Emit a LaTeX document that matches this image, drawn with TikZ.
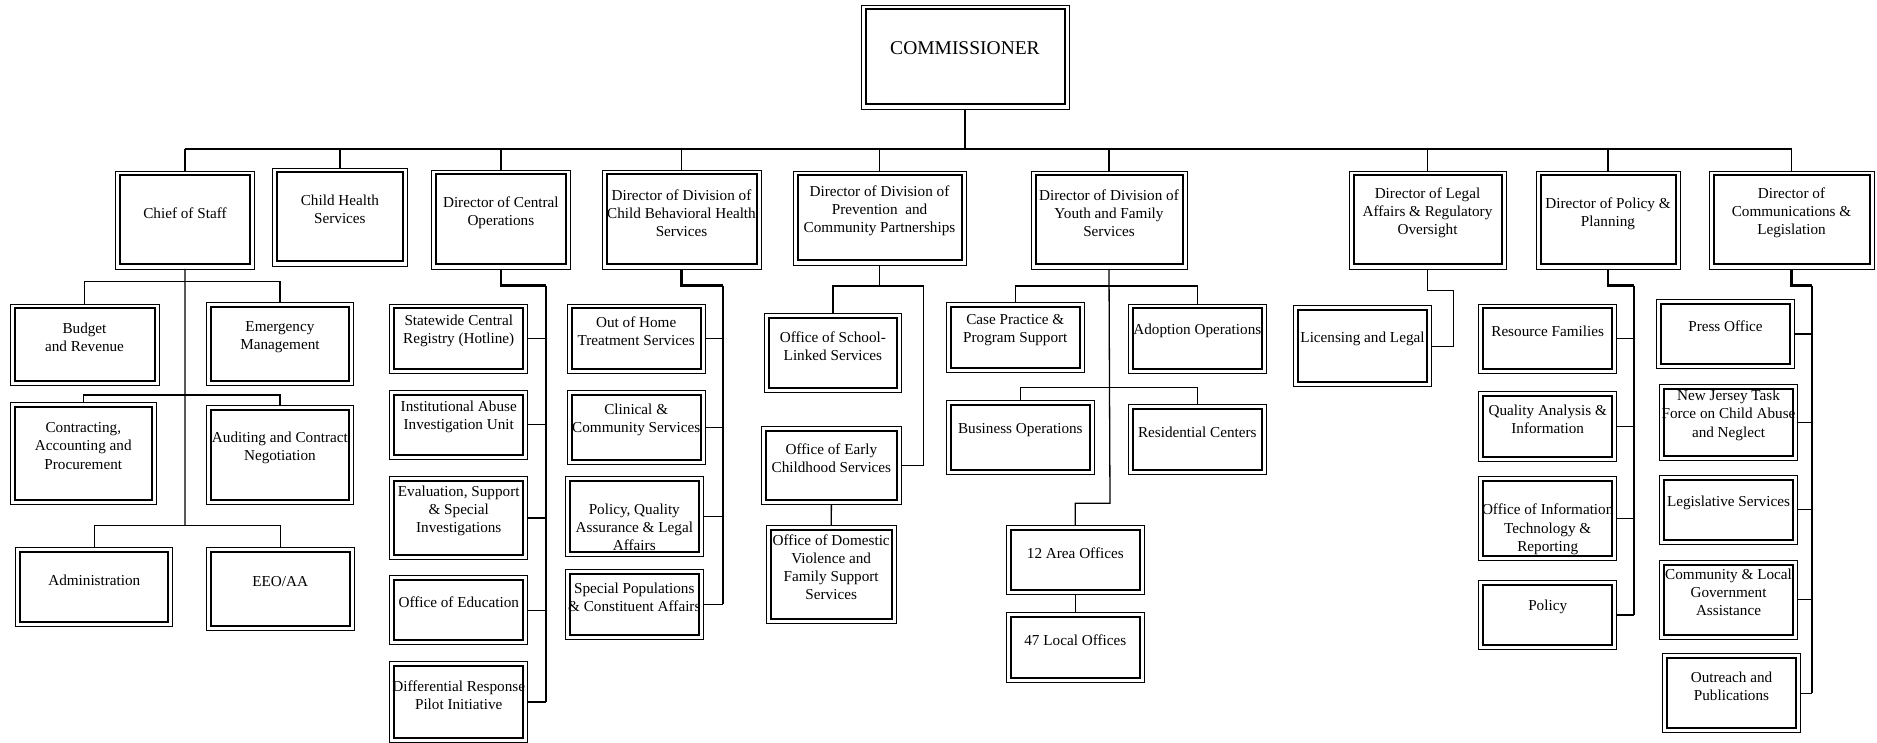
\documentclass[tikz,border=0pt]{standalone}
\usepackage{fontspec}
\setmainfont{Liberation Serif}
\tikzset{
  box/.style={draw=black, line width=0.9pt, inner sep=0pt, outer sep=0pt,
    path picture={\draw[line width=2pt] ([shift={(4.5pt,4.5pt)}]path picture bounding box.south west) rectangle ([shift={(-4.5pt,-4.5pt)}]path picture bounding box.north east);}},
  txt/.style={align=center, inner sep=0pt, yshift=-2pt, font=\fontsize{15.2}{18.2}\selectfont},
  conn/.style={line width=1.3pt},
  medc/.style={line width=1.7pt},
  thickc/.style={line width=2.4pt}
}
\newcommand{\orgbox}[7]{%
  \pgfmathsetmacro\obw{#4-#2}%
  \pgfmathsetmacro\obh{#5-#3}%
  \pgfmathsetmacro\obc{(#2+#4)/2}%
  \node[box, anchor=north west, minimum width=\obw pt, minimum height=\obh pt] (#1) at (#2,#3) {};
  \node[txt] (#1-t) at (\obc,#6) {#7};
}
\begin{document}
\begin{tikzpicture}[x=1pt, y=-1pt]
\useasboundingbox (0,0) rectangle (1877,743);

% Commissioner
\node[box, anchor=north west, minimum width=208pt, minimum height=104pt] (comm) at (861,5) {};
\node[txt, font=\fontsize{19.5}{23}\selectfont] (comm-t) at (965,46) {COMMISSIONER};

% Level 1
\orgbox{chief}{115.7}{171}{254.2}{269}{211}{Chief of Staff}
\orgbox{chs}{272.8}{168}{407}{266}{207.5}{Child Health\\Services}
\orgbox{cent}{431.7}{170}{570}{269}{211}{Director of Central\\Operations}
\orgbox{cbh}{602}{170}{761}{269}{211}{Director of Division of\\Child Behavioral Health\\Services}
\orgbox{prev}{793}{171}{966}{265}{209}{Director of Division of\\Prevention\ \ and\\Community Partnerships}
\orgbox{youth}{1031}{171}{1187}{269}{211}{Director of Division of\\Youth and Family\\Services}
\orgbox{legal}{1349}{171}{1506}{269}{211}{Director of Legal\\Affairs \& Regulatory\\Oversight}
\orgbox{dpol}{1536}{171}{1680}{269}{211.5}{Director of Policy \&\\Planning}
\orgbox{comms}{1709}{171}{1874}{269}{211}{Director of\\Communications \&\\Legislation}

% Chief of staff subtree
\orgbox{budget}{10}{304}{159}{385}{335}{Budget\\and Revenue}
\orgbox{emerg}{206.5}{302.7}{353.4}{385.3}{335}{Emergency\\Management}
\orgbox{contr}{10}{402}{156.6}{504.7}{444}{Contracting,\\Accounting and\\Procurement}
\orgbox{audit}{206.5}{405.7}{353.4}{504}{446}{Auditing and Contract\\Negotiation}
\orgbox{admin}{15.8}{547}{172.8}{626}{578}{Administration}
\orgbox{eeo}{206.5}{547}{354}{630}{580}{EEO/AA}

% Central operations subtree
\orgbox{state}{389.6}{304}{527.9}{373}{329}{Statewide Central\\Registry (Hotline)}
\orgbox{inst}{389.6}{390}{527.9}{459}{415}{Institutional Abuse\\Investigation Unit}
\orgbox{evals}{389.6}{476}{527.9}{559.7}{508.7}{Evaluation, Support\\\& Special\\Investigations}
\orgbox{educ}{389.6}{575.7}{527.9}{644.7}{600}{Office of Education}
\orgbox{diff}{389.6}{661.7}{527.9}{742}{693}{Differential Response\\Pilot Initiative}

% Child behavioral health subtree
\orgbox{ooh}{567}{304}{705.4}{373}{329}{Out of Home\\Treatment Services}
\orgbox{clin}{567}{390}{705.4}{464.3}{418}{Clinical \&\\Community Services}
\orgbox{pqa}{565.4}{476}{703.2}{556.7}{525.3}{Policy, Quality\\Assurance \& Legal\\Affairs}
\orgbox{spec}{565.4}{569.7}{703.2}{639}{595}{Special Populations\\\& Constituent Affairs}

% Prevention subtree
\orgbox{school}{764}{313.3}{901.8}{392.7}{344.3}{Office of School-\\Linked Services}
\orgbox{early}{761.4}{426.7}{901.4}{504.3}{456.5}{Office of Early\\Childhood Services}
\orgbox{domv}{766.4}{525.3}{896}{623.3}{565.2}{Office of Domestic\\Violence and\\Family Support\\Services}

% Youth and family subtree
\orgbox{casep}{946.3}{302.7}{1084.3}{372}{328.3}{Case Practice \&\\Program Support}
\orgbox{adopt}{1128.3}{304}{1266.3}{373.3}{329.3}{Adoption Operations}
\orgbox{busops}{946.7}{400.3}{1094}{474}{428.3}{Business Operations}
\orgbox{resid}{1128.3}{404.7}{1266.3}{474}{430.3}{Residential Centers}
\orgbox{area}{1006.3}{525.7}{1144.3}{594.3}{551}{12 Area Offices}
\orgbox{local}{1006.3}{612.7}{1144.3}{682}{638.3}{47 Local Offices}

% Legal subtree
\orgbox{lic}{1293.3}{305.7}{1431.7}{386.7}{337.3}{Licensing and Legal}

% Policy subtree
\orgbox{resf}{1478.7}{304}{1616.7}{373.3}{329.3}{Resource Families}
\orgbox{qa}{1478.7}{391.7}{1616.7}{461}{417.3}{Quality Analysis \&\\Information}
\orgbox{oit}{1478.7}{476}{1616.7}{560.7}{527.3}{Office of Information\\Technology \&\\Reporting}
\orgbox{pol}{1478.7}{580.7}{1616.7}{649.3}{605.3}{Policy}

% Communications subtree
\orgbox{press}{1656.7}{299.3}{1794.3}{368.7}{324}{Press Office}
\orgbox{njtf}{1659.7}{384.7}{1797.3}{460.7}{413.3}{New Jersey Task\\Force on Child Abuse\\and Neglect}
\orgbox{legis}{1659.7}{475.3}{1797.3}{544.3}{501.3}{Legislative Services}
\orgbox{commun}{1659.7}{560}{1797.3}{639.3}{590.5}{Community \& Local\\Government\\Assistance}
\orgbox{outr}{1662.7}{653.7}{1800.3}{732.7}{684.3}{Outreach and\\Publications}

% ---- Connectors ----
\coordinate (busL) at (184.9,149);
\coordinate (busM) at (501,149);
\coordinate (busR) at (1791.5,149);
\draw[thickc] (comm.south) -- (comm.south |- busL);
\draw[conn] (busL) -- (busM);
\draw[thickc] (busM) -- (busR);
\foreach \x in {chief,chs,cent,cbh,prev,youth,legal,dpol,comms}
  \draw[conn] (\x.north) -- (\x.north |- busL);

% Chief of staff
\coordinate (cs1) at (185,281.7);
\coordinate (cs2) at (185,395);
\coordinate (cs3) at (185,525.7);
\draw[conn] (chief.south) -- (cs3);
\draw[conn] (budget.north) -- (budget.north |- cs1) -- (emerg.north |- cs1) -- (emerg.north);
\draw[conn] (contr.north) -- (contr.north |- cs2) -- (audit.north |- cs2) -- (audit.north);
\draw[conn] (admin.north) -- (admin.north |- cs3) -- (eeo.north |- cs3) -- (eeo.north);

% Central operations
\coordinate (co1) at (546,285.7);
\draw[thickc] (cent.south) |- (co1);
\draw[medc] (co1) -- (co1 |- diff.east);
\foreach \x in {state,inst,evals,educ,diff}
  \draw[conn] (\x.east) -- (\x.east -| co1);

% Child behavioral health
\coordinate (cb1) at (722.9,285.7);
\draw[thickc] (cbh.south) |- (cb1);
\draw[medc] (cb1) -- (cb1 |- spec.east);
\foreach \x in {ooh,clin,pqa,spec}
  \draw[conn] (\x.east) -- (\x.east -| cb1);

% Prevention
\coordinate (pvR) at (923.6,286);
\draw[conn] (prev.south) -- (prev.south |- pvR);
\draw[conn] (school.north) -- (school.north |- pvR) -- (pvR) -- (pvR |- early.east) -- (early.east);
\draw[conn] (early.south) -- (domv.north);

% Youth and family
\coordinate (yf1) at (1110,286);
\coordinate (yf2) at (1110,387.3);
\coordinate (yf3) at (1110,503.3);
\draw[conn] (youth.south) -- (yf3) -- (yf3 -| area.north) -- (area.north);
\draw[conn] (casep.north) -- (casep.north |- yf1) -- (adopt.north |- yf1) -- (adopt.north);
\draw[conn] (busops.north) -- (busops.north |- yf2) -- (resid.north |- yf2) -- (resid.north);
\draw[conn] (area.south) -- (local.north);

% Legal
\coordinate (lg1) at (1453.7,290.7);
\draw[conn] (legal.south) |- (lg1) |- (lic.east);

% Policy
\coordinate (pp1) at (1634,285.7);
\draw[thickc] (dpol.south) |- (pp1);
\draw[medc] (pp1) -- (pp1 |- pol.east);
\foreach \x in {resf,qa,oit,pol}
  \draw[conn] (\x.east) -- (\x.east -| pp1);

% Communications
\coordinate (cm1) at (1812,285.7);
\draw[thickc] (comms.south) |- (cm1);
\draw[medc] (cm1) -- (cm1 |- outr.east);
\foreach \x in {press,njtf,legis,commun,outr}
  \draw[conn] (\x.east) -- (\x.east -| cm1);
\end{tikzpicture}
\end{document}
